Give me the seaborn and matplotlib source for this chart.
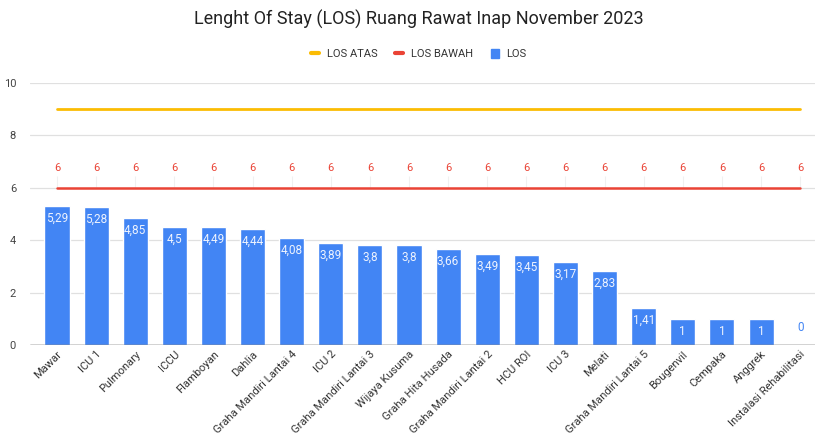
import numpy as np
import matplotlib.pyplot as plt
import seaborn as sns
from matplotlib.lines import Line2D
from matplotlib.patches import Patch

# data
rooms = ["Mawar", "ICU 1", "Pulmonary", "ICCU", "Flamboyan", "Dahlia",
         "Graha Mandiri Lantai 4", "ICU 2", "Graha Mandiri Lantai 3",
         "Wijaya Kusuma", "Graha Hita Husada", "Graha Mandiri Lantai 2",
         "HCU ROI", "ICU 3", "Melati", "Graha Mandiri Lantai 5",
         "Bougenvil", "Cempaka", "Anggrek", "Instalasi Rehabilitasi"]
los = [5.29, 5.28, 4.85, 4.5, 4.49, 4.44, 4.08, 3.89, 3.8, 3.8,
       3.66, 3.49, 3.45, 3.17, 2.83, 1.41, 1, 1, 1, 0]
los_atas = [9] * len(rooms)
los_bawah = [6] * len(rooms)

BLUE = "#4285F4"
RED = "#EA4335"
YELLOW = "#FBBC04"

sns.set_style("white")
plt.rcParams["font.family"] = ["Roboto", "DejaVu Sans"]

fig = plt.figure(figsize=(8.15, 4.36), dpi=100)
ax = fig.add_axes([30 / 815, 1 - 345 / 436, 785 / 815, 262 / 436])

x = np.arange(len(rooms))
sns.barplot(x=rooms, y=los, color=BLUE, width=0.64, saturation=1, ax=ax, zorder=3)
sns.lineplot(x=x, y=los_atas, color=YELLOW, linewidth=2, ax=ax, zorder=4)
sns.lineplot(x=x, y=los_bawah, color=RED, linewidth=1.8, ax=ax, zorder=4)


def fmt(v):
    return ("%g" % v).replace(".", ",")


# bar value labels
for xi, v in zip(x, los):
    if v > 0:
        ax.text(xi, v - 0.47, fmt(v), ha="center", va="center", fontsize=8.5, color="#eef3fe", zorder=5)
    else:
        ax.text(xi, 0.65, fmt(v), ha="center", va="center", fontsize=8.5, color=BLUE, zorder=5)

# LOS BAWAH labels with small leader lines
for xi, v in zip(x, los_bawah):
    ax.vlines(xi, v, v + 0.45, color="#f0f0f0", linewidth=0.8, zorder=2)
    ax.text(xi, v + 0.75, fmt(v), ha="center", va="center", fontsize=8, color=RED, zorder=5)

ax.set_xlim(-0.69, 19.38)
ax.set_ylim(0, 10)
ax.set_yticks([0, 2, 4, 6, 8, 10])
ax.yaxis.grid(True, color="#e0e0e0", linewidth=0.9, zorder=0)
ax.set_axisbelow(True)
ax.axhline(0, color="#333333", linewidth=1, zorder=6)
for s in ax.spines.values():
    s.set_visible(False)
ax.tick_params(axis="y", length=0, pad=10, labelsize=8, labelcolor="#444444")
ax.tick_params(axis="x", length=0, pad=3, labelsize=8, labelcolor="#333333")
plt.setp(ax.get_xticklabels(), rotation=45, ha="right", rotation_mode="anchor")

fig.suptitle("Lenght Of Stay (LOS) Ruang Rawat Inap November 2023",
             x=0.514, y=1 - 19 / 436, va="center", fontsize=13, color="#222222")

handles = [Line2D([], [], color=YELLOW, linewidth=3),
           Line2D([], [], color=RED, linewidth=3),
           Patch(color=BLUE)]
fig.legend(handles, ["LOS ATAS", "LOS BAWAH", "LOS"], loc="center",
           bbox_to_anchor=(0.514, 1 - 54 / 436), ncol=3, frameon=False,
           fontsize=8, handlelength=0.7, handleheight=0.9, handletextpad=0.7,
           columnspacing=1.6, labelcolor="#333333")

fig.savefig("out.png", dpi=100)
